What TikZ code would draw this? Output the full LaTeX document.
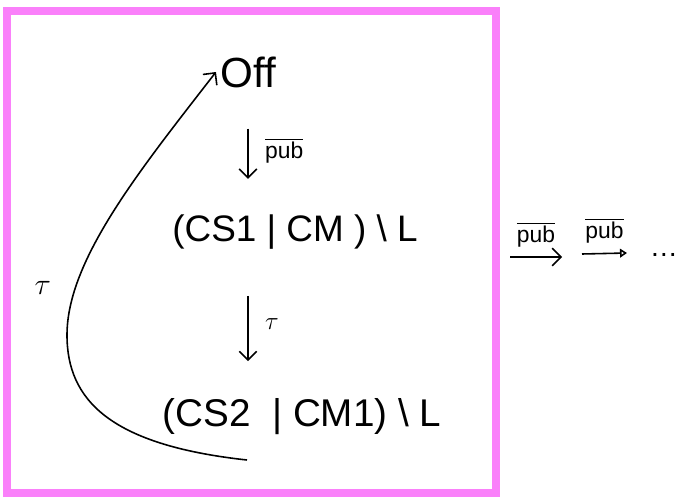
\documentclass[tikz,border=0pt]{standalone}
\usepackage{fontspec}
\setmainfont{Liberation Sans}
\usetikzlibrary{arrows.meta}
\definecolor{framepink}{RGB}{250,128,250}

\begin{document}
\begin{tikzpicture}[x=0.02cm,y=-0.02cm,line width=0.9pt,
  state/.style={inner sep=2pt, font=\fontsize{21}{24}\selectfont},
  trans/.style={-{Straight Barb[length=5pt,width=10pt]}},
  lbl/.style={font=\fontsize{13}{15}\selectfont}]
\useasboundingbox (0,0) rectangle (679,500);
\draw[framepink, line width=4pt] (7,11) rectangle (496,493);

\node[state, font=\fontsize{24}{28}\selectfont] (off) at (248,72) {Off};
\node[state] (s1) at (295,232) {(CS1 | CM ) \textbackslash\ L};
\node[state, font=\fontsize{22}{26}\selectfont] (s2) at (302,417) {(CS2~~| CM1) \textbackslash\ L};
\coordinate (loopstart) at (247,460);

\draw[trans, shorten <=21pt, shorten >=18pt] (off.south) -- (off.south |- s1.north)
  node[midway, right=6pt, lbl] {$\overline{\mbox{pub}}$};
\draw[trans, shorten <=24pt, shorten >=19pt] (off.south |- s1.south) -- (off.south |- s2.north)
  node[midway, right=6pt, font=\fontsize{15}{17}\selectfont] {$\tau$};
\draw[trans] (loopstart) .. controls (110,445) and (67,400) .. (67,335)
  .. controls (67,260) and (140,170) .. node[pos=0.2, left=10pt, font=\fontsize{18}{20}\selectfont] {$\tau$} (off.west);

% outside the box
\coordinate (r0) at (510,257);
\coordinate (r1) at (562,257);
\coordinate (r2) at (582,254);
\coordinate (r3) at (627,253);
\draw[trans] (r0) -- (r1) node[midway, above=2pt, lbl] {$\overline{\mbox{pub}}$};
\draw[-{Triangle[open,length=4pt,width=5pt]}] (r2) -- (r3) node[midway, above=2pt, lbl] {$\overline{\mbox{pub}}$};
\node[font=\fontsize{16}{18}\selectfont] (more) at (664,255) {\dots};
\end{tikzpicture}
\end{document}
